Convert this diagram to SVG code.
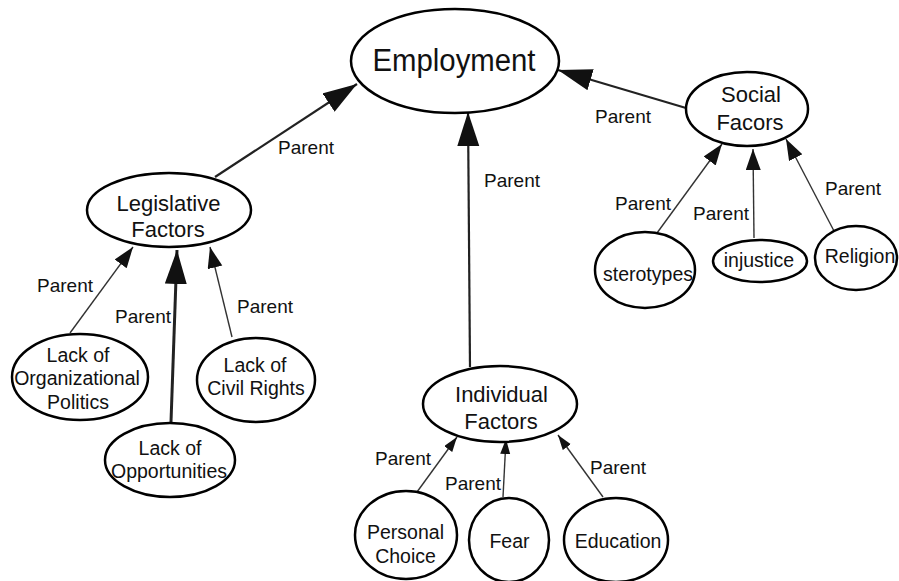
<svg xmlns="http://www.w3.org/2000/svg" width="899" height="581" viewBox="0 0 899 581">
<style>
.n{fill:#fff;stroke:#000;stroke-width:2.5}
text{font-family:"Liberation Sans",Arial,sans-serif;fill:#111;text-anchor:middle}
.t1{font-size:31px}
.t2{font-size:22px}
.t3{font-size:19.5px}
.lb{font-size:19px;text-anchor:start}
.c{fill:none;stroke:#222}
.cb{stroke-width:2.2}
.cm{stroke-width:1.4;stroke:#333}
</style>
<defs>
<marker id="aL" markerUnits="userSpaceOnUse" markerWidth="36" markerHeight="24" refX="34" refY="11" orient="auto"><path d="M0,0 L34,11 L0,22 Z" fill="#111"/></marker>
<marker id="aM" markerUnits="userSpaceOnUse" markerWidth="22" markerHeight="16" refX="21" refY="7.5" orient="auto"><path d="M0,0 L21,7.5 L0,15 Z" fill="#111"/></marker>
<marker id="aS" markerUnits="userSpaceOnUse" markerWidth="16" markerHeight="12" refX="15" refY="5" orient="auto"><path d="M0,0 L15,5 L0,10 Z" fill="#111"/></marker>
</defs>
<g id="connectors">
<line class="c cb" x1="215" y1="177" x2="357" y2="84" marker-end="url(#aL)"/>
<line class="c cb" x1="470" y1="367" x2="468" y2="112" marker-end="url(#aL)"/>
<line class="c cb" x1="686" y1="108" x2="558" y2="70" marker-end="url(#aL)"/>
<line class="c cm" x1="657" y1="233" x2="722" y2="144" marker-end="url(#aM)"/>
<line class="c cm" x1="754" y1="238" x2="753" y2="149" marker-end="url(#aM)"/>
<line class="c cm" x1="834" y1="231" x2="786" y2="139" marker-end="url(#aM)"/>
<line class="c cm" x1="70" y1="333" x2="133" y2="247" marker-end="url(#aM)"/>
<line class="c" stroke-width="3" x1="171" y1="422" x2="177" y2="250" marker-end="url(#aL)"/>
<line class="c cm" x1="232" y1="337" x2="210" y2="247" marker-end="url(#aM)"/>
<line class="c cm" x1="417" y1="492" x2="457" y2="437" marker-end="url(#aS)"/>
<line class="c cm" x1="503" y1="497" x2="506" y2="439" marker-end="url(#aS)"/>
<line class="c cm" x1="603" y1="497" x2="558" y2="435" marker-end="url(#aS)"/>
<text class="lb" x="278" y="154">Parent</text>
<text class="lb" x="484" y="187">Parent</text>
<text class="lb" x="595" y="123">Parent</text>
<text class="lb" x="615" y="210">Parent</text>
<text class="lb" x="693" y="220">Parent</text>
<text class="lb" x="825" y="195">Parent</text>
<text class="lb" x="37" y="292">Parent</text>
<text class="lb" x="115" y="323">Parent</text>
<text class="lb" x="237" y="313">Parent</text>
<text class="lb" x="375" y="465">Parent</text>
<text class="lb" x="445" y="490">Parent</text>
<text class="lb" x="590" y="474">Parent</text>
</g>
<g id="employment"><ellipse class="n" cx="455" cy="61" rx="104" ry="52"/><text class="t1" x="454" y="71" textLength="163" lengthAdjust="spacingAndGlyphs">Employment</text></g>
<g id="social"><ellipse class="n" cx="747" cy="109" rx="61" ry="37"/><text class="t2" x="751" y="102">Social</text><text class="t2" x="750" y="130">Facors</text></g>
<g id="legislative"><ellipse class="n" cx="169" cy="210" rx="82" ry="37"/><text class="t2" x="168.5" y="211">Legislative</text><text class="t2" x="168" y="237">Factors</text></g>
<g id="individual"><ellipse class="n" cx="500" cy="404" rx="77" ry="38"/><text class="t2" x="501.5" y="402">Individual</text><text class="t2" x="501" y="429">Factors</text></g>
<g id="sterotypes"><ellipse class="n" cx="645" cy="270" rx="50" ry="38"/><text class="t3" x="648" y="281">sterotypes</text></g>
<g id="injustice"><ellipse class="n" cx="760" cy="261" rx="47" ry="21"/><text class="t3" x="759" y="267">injustice</text></g>
<g id="religion"><ellipse class="n" cx="856" cy="258" rx="41" ry="32"/><text class="t3" x="860" y="263">Religion</text></g>
<g id="org-politics"><ellipse class="n" cx="80" cy="377" rx="68" ry="43"/><text class="t3" x="78" y="362">Lack of</text><text class="t3" x="77" y="385">Organizational</text><text class="t3" x="78" y="409">Politics</text></g>
<g id="civil-rights"><ellipse class="n" cx="256" cy="380" rx="59" ry="42"/><text class="t3" x="255" y="372">Lack of</text><text class="t3" x="256" y="395">Civil Rights</text></g>
<g id="opportunities"><ellipse class="n" cx="170" cy="460" rx="65" ry="37"/><text class="t3" x="170" y="455">Lack of</text><text class="t3" x="169" y="478">Opportunities</text></g>
<g id="personal-choice"><ellipse class="n" cx="406" cy="535" rx="51" ry="44"/><text class="t3" x="405.5" y="539">Personal</text><text class="t3" x="405.5" y="563">Choice</text></g>
<g id="fear"><ellipse class="n" cx="509" cy="540" rx="40" ry="42"/><text class="t3" x="509.5" y="548">Fear</text></g>
<g id="education"><ellipse class="n" cx="616" cy="540" rx="52" ry="42"/><text class="t3" x="618" y="548">Education</text></g>
</svg>
